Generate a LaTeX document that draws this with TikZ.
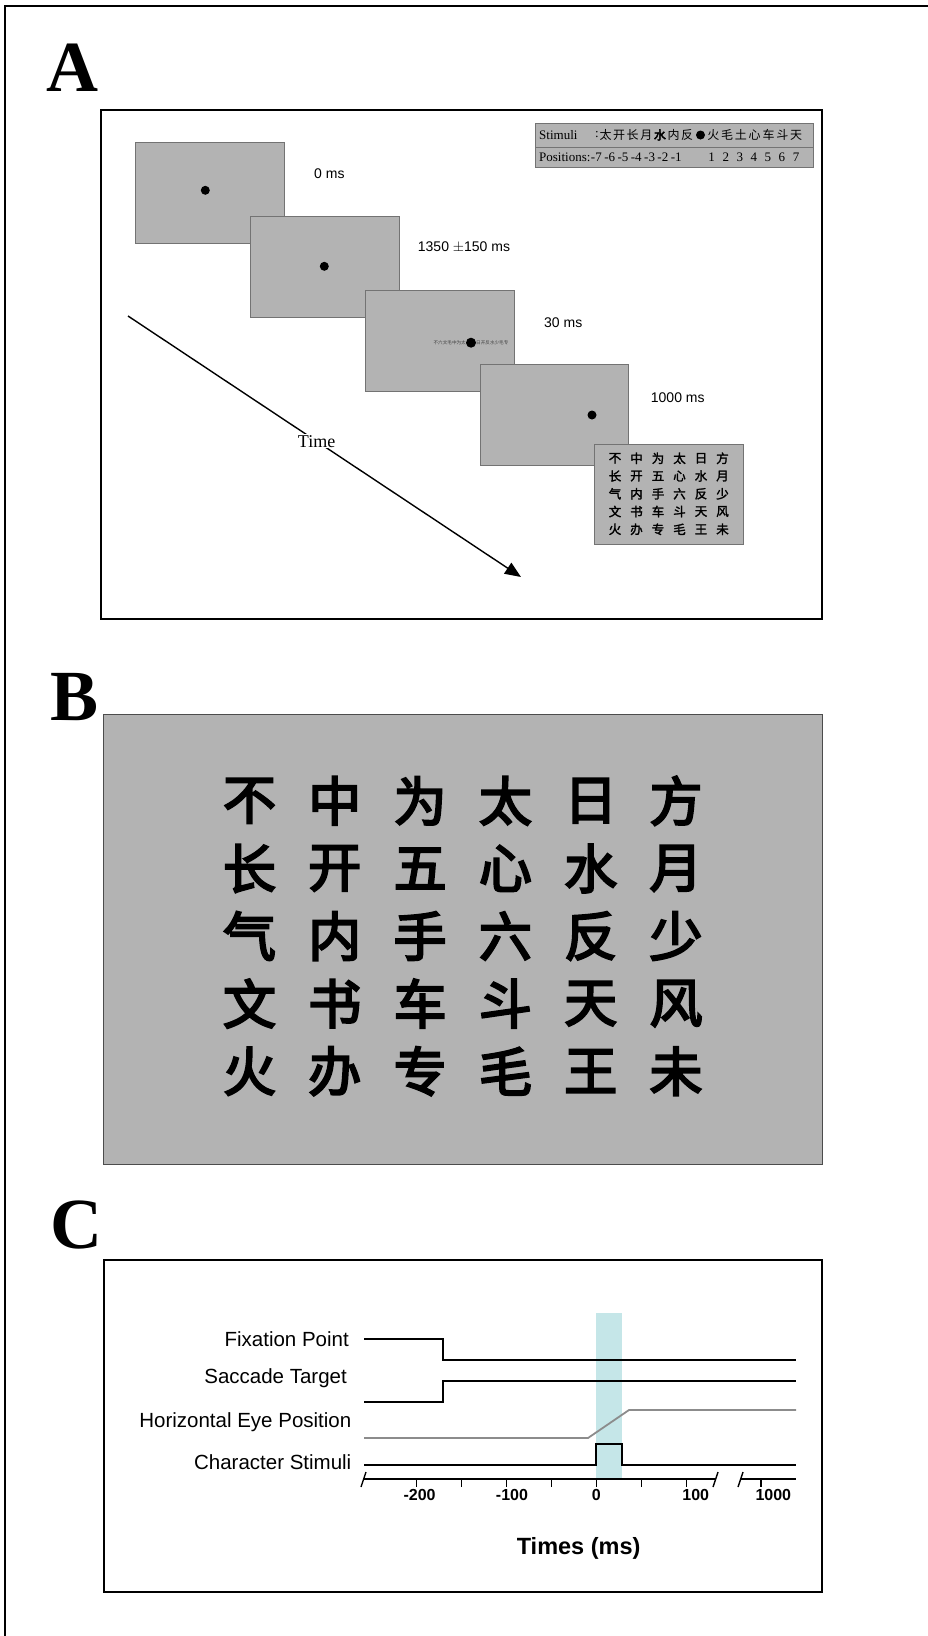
\documentclass[tikz,border=0pt]{standalone}
\usepackage{fontspec}
\setmainfont{Liberation Serif}
\newfontfamily\arialf{Liberation Sans}
\newfontfamily\cjkf{Noto Sans CJK SC}
\newfontfamily\cjkfb{Noto Sans CJK SC}[FakeBold=4]
\newfontfamily\cjkfm{Noto Sans CJK SC}[FakeBold=2]
\usetikzlibrary{arrows.meta}
\definecolor{scr}{RGB}{179,179,179}
\definecolor{scrb}{RGB}{115,115,115}
\definecolor{band}{RGB}{197,230,232}
\definecolor{eyeg}{RGB}{140,140,140}
\begin{document}
\begin{tikzpicture}[x=1pt,y=-1pt,
  screen/.style={draw=scrb, fill=scr, line width=0.9pt, anchor=north west, inner sep=0},
  fixdot/.style={fill=black, circle, inner sep=0, minimum size=9pt},
  mslabel/.style={font=\arialf\fontsize{14}{16}\selectfont, anchor=west, inner sep=0},
  panellabel/.style={font=\bfseries\fontsize{72}{72}\selectfont, anchor=base west, inner sep=0},
  tabtext/.style={font=\fontsize{13}{14}\selectfont, inner sep=0},
  tabcjk/.style={font=\cjkf\fontsize{12}{13}\selectfont, inner sep=0},
  gridcjk/.style={font=\cjkfm\fontsize{12.5}{13}\selectfont, inner sep=0},
  bigcjk/.style={font=\cjkfb\fontsize{53}{54}\selectfont, inner sep=0},
  frameline/.style={line width=1.6pt},
  sig/.style={line width=1.8pt},
  siglabel/.style={font=\arialf\fontsize{20.5}{22}\selectfont, anchor=east, inner sep=0},
  ticklabel/.style={font=\arialf\bfseries\fontsize{16}{18}\selectfont, inner sep=0},
]
\useasboundingbox (0,0) rectangle (927,1636);
% outer frame (only left and top visible)
\draw[line width=2.5pt] (5,1640) -- (5,6) -- (930,6);

% panel labels
\node[panellabel] (labA) at (46,91) {A};
\node[panellabel] (labB) at (50,720) {B};
\node[panellabel] (labC) at (50,1248) {C};

% ---------------- Panel A ----------------
\draw[frameline] (101,110) rectangle (822,619);

% stimuli table
\draw[draw=scrb, fill=scr, line width=0.9pt] (535,123) rectangle (813,167);
\draw[draw=scrb, line width=0.9pt] (535,147) -- (813,147);
\node[tabtext, anchor=west] (stimlab) at (539,135) {Stimuli};
\node[tabtext, anchor=east] (colon) at (599,134.5) {:};
\node[tabtext, anchor=west] (poslab) at (539,157) {Positions:};
\foreach \c [count=\i from 0] in {太,开,长,月,水,内,反}{
  \pgfmathsetmacro{\xx}{605.5+13.6*\i}
  \ifnum\i=4
    \node[tabcjk, font=\cjkfb\fontsize{12}{13}\selectfont] (sl\i) at (\xx,135) {\c};
  \else
    \node[tabcjk] (sl\i) at (\xx,135) {\c};
  \fi
}
\node[fill=black, circle, inner sep=0, minimum size=9pt] (sdot) at (700.5,135) {};
\foreach \c [count=\i from 0] in {火,毛,土,心,车,斗,天}{
  \pgfmathsetmacro{\xx}{713.3+13.8*\i}
  \node[tabcjk] (sr\i) at (\xx,135) {\c};
}
\foreach \n [count=\i from 0] in {-7,-6,-5,-4,-3,-2,-1}{
  \pgfmathsetmacro{\xx}{602+13.3*\i}
  \node[tabtext, anchor=east] (pl\i) at (\xx,157.5) {\n};
}
\foreach \n [count=\i from 0] in {1,2,3,4,5,6,7}{
  \pgfmathsetmacro{\xx}{711.7+14.05*\i}
  \node[tabtext] (pr\i) at (\xx,157.5) {\n};
}

% screens
\node[screen, minimum width=149pt, minimum height=101pt] (s1) at (135,142) {};
\node[fixdot] (d1) at (205.3,190.3) {};
\node[mslabel] (t1) at (314,174) {0 ms};

\node[screen, minimum width=149pt, minimum height=101pt] (s2) at (250,215.5) {};
\node[fixdot] (d2) at (324.3,266.3) {};
\node[mslabel] (t2) at (417.7,247.7) {1350 $\pm$150 ms};

\node[screen, minimum width=149pt, minimum height=101pt] (s3) at (365,290) {};
\node[font=\cjkf\fontsize{4.6}{5}\selectfont, inner sep=0, anchor=east, text=black!75] (tinyL) at (466,342.7) {不六文毛中为太};
\node[font=\cjkf\fontsize{4.6}{5}\selectfont, inner sep=0, anchor=west, text=black!75] (tinyR) at (476,342.7) {日开反水少毛专};
\node[fixdot, minimum size=10pt] (d3) at (471,342.7) {};
\node[mslabel] (t3) at (544,323) {30 ms};

\node[screen, minimum width=148pt, minimum height=101pt] (s4) at (480,364) {};
\node[fixdot] (d4) at (592,415) {};
\node[mslabel] (t4) at (650.7,397.7) {1000 ms};

\node[screen, minimum width=149pt, minimum height=100pt] (grid) at (594.3,444.3) {};
\foreach \row [count=\j from 0] in {{不,中,为,太,日,方},{长,开,五,心,水,月},{气,内,手,六,反,少},{文,书,车,斗,天,风},{火,办,专,毛,王,未}}{
  \foreach \c [count=\i from 0] in \row {
    \pgfmathsetmacro{\xx}{615+21.5*\i}
    \pgfmathsetmacro{\yy}{458.3+17.75*\j}
    \node[gridcjk] (g\j\i) at (\xx,\yy) {\c};
  }
}

% time arrow
\coordinate (ta) at (128,316);
\coordinate (tb) at (521,577);
\draw[line width=1.4pt, -{Triangle[length=16pt,width=13pt]}] (ta) -- node[pos=0.48, fill=white, inner sep=1pt, font=\fontsize{18}{20}\selectfont] (tlab) {Time} (tb);

% ---------------- Panel B ----------------
\node[draw=black!70, fill=scr, line width=1.2pt, anchor=north west, inner sep=0, minimum width=719pt, minimum height=450pt] (bbox) at (103,714) {};
\foreach \row [count=\j from 0] in {{不,中,为,太,日,方},{长,开,五,心,水,月},{气,内,手,六,反,少},{文,书,车,斗,天,风},{火,办,专,毛,王,未}}{
  \foreach \c [count=\i from 0] in \row {
    \pgfmathsetmacro{\xx}{249.5+85.3*\i}
    \pgfmathsetmacro{\yy}{800.8+67.6*\j}
    \node[bigcjk] (b\j\i) at (\xx,\yy) {\c};
  }
}

% ---------------- Panel C ----------------
\draw[frameline] (104,1260) rectangle (822,1592);
\fill[band] (596,1313) rectangle (622,1479);

\node[siglabel] (lfp) at (349,1339) {Fixation Point};
\node[siglabel] (lst) at (347,1378) {Saccade Target};
\node[siglabel] (lhe) at (351.5,1422) {Horizontal Eye Position};
\node[siglabel] (lcs) at (351.5,1462) {Character Stimuli};

\draw[sig] (364,1339) -- (443,1339) -- (443,1360) -- (796,1360);
\draw[sig] (364,1402) -- (443,1402) -- (443,1381) -- (796,1381);
\draw[sig, eyeg] (364,1438) -- (588,1438) -- (629,1410) -- (796,1410);
\draw[sig] (364,1465) -- (596,1465) -- (596,1444) -- (622,1444) -- (622,1465) -- (796,1465);

% axis
\draw[sig] (364,1479) -- (715,1479);
\draw[sig] (740,1479) -- (796,1479);
\draw[line width=1.4pt] (361,1487) -- (366,1472);
\draw[line width=1.4pt] (713,1487) -- (718,1472);
\draw[line width=1.4pt] (738,1487) -- (743,1472);
\foreach \t in {-200,-150,-100,-50,0,50,100}{
  \draw[line width=1.4pt] ({596.3+0.9*\t},1479) -- ({596.3+0.9*\t},1487);
}
\draw[line width=1.4pt] (761,1479) -- (761,1487);
\node[ticklabel] (tm200) at (419.6,1495) {-200};
\node[ticklabel] (tm100) at (512,1495) {-100};
\node[ticklabel] (t0) at (596.3,1495) {0};
\node[ticklabel] (t100) at (695.7,1495) {100};
\node[ticklabel] (t1000) at (773.3,1495) {1000};
\node[font=\arialf\bfseries\fontsize{23.5}{26}\selectfont, inner sep=0] (xtitle) at (578.6,1548.5) {Times (ms)};
\end{tikzpicture}
\end{document}
